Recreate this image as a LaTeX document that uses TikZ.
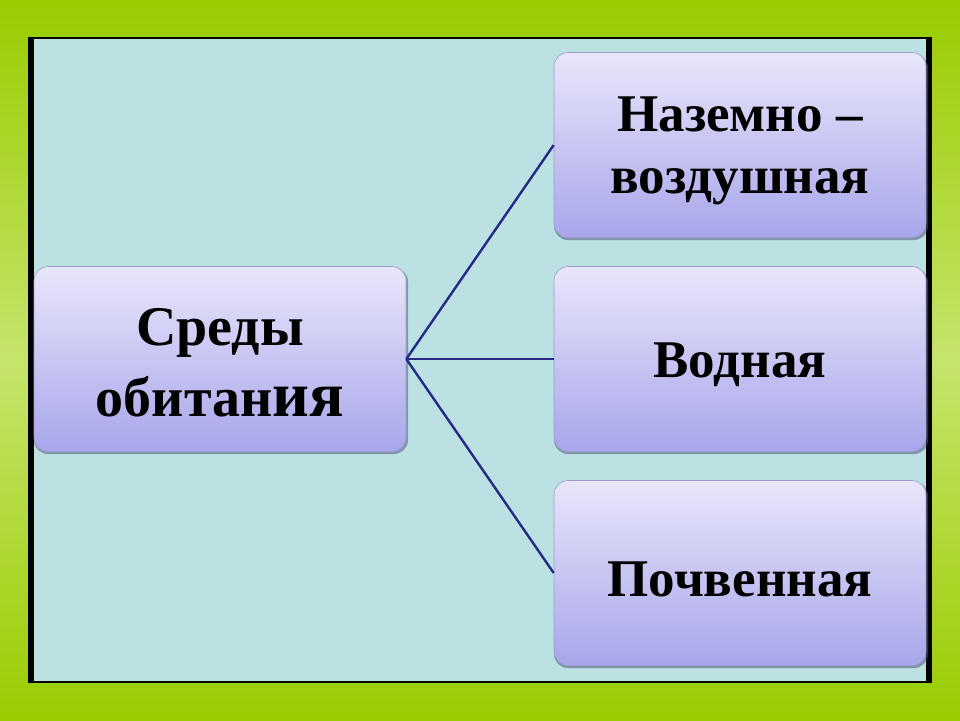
\documentclass[tikz,border=0pt]{standalone}
\usepackage{fontspec}
\setmainfont{Liberation Serif}
\definecolor{greenA}{HTML}{99CC00}
\definecolor{greenB}{HTML}{C6E46C}
\definecolor{panel}{HTML}{BCE1E3}
\definecolor{boxtop}{HTML}{E8E6FA}
\definecolor{boxbot}{HTML}{A8A6EA}
\definecolor{boxedge}{HTML}{9C9CD2}
\definecolor{link}{HTML}{262A86}
\definecolor{shad}{HTML}{4F5A78}
\tikzset{
  box/.style={rounded corners=14pt, top color=boxtop, bottom color=boxbot,
    draw=boxedge, line width=0.6pt, minimum width=372pt, minimum height=185pt,
    inner sep=0pt},
  label53/.style={align=center, inner sep=0pt, font=\bfseries\fontsize{53}{62}\selectfont},
  label56/.style={align=center, inner sep=0pt, font=\bfseries\fontsize{56}{71}\selectfont},
  conn/.style={draw=link, line width=2.4pt},
}
\begin{document}
\begin{tikzpicture}[x=1pt,y=-1pt]
\useasboundingbox (0,0) rectangle (960,720);
% green frame with gradient
\shade[top color=greenA, bottom color=greenB] (0,0) rectangle (960,360);
\shade[top color=greenB, bottom color=greenA] (0,360) rectangle (960,720);
% panel
\fill[black] (28,37) rectangle (932,683);
\fill[panel] (34,39) rectangle (926,681);
% shadows
\foreach \x/\y in {220/359, 740/145, 740/359, 740/573}{
  \fill[shad, opacity=0.55, rounded corners=14pt] (\x-186,\y-91) rectangle (\x+188,\y+95);
}
% boxes
\node[box] (root) at (220,359) {};
\node[box] (air) at (740,145) {};
\node[box] (water) at (740,359) {};
\node[box] (soil) at (740,573) {};
% texts
\node[label56] (rootT) at ([yshift=-4pt]root.center) {Среды\\обитан{\fontsize{64}{71}\selectfont ия}};
\node[label53] (airT) at ([yshift=-6pt]air.center) {Наземно –\\воздушная};
\node[label53] (waterT) at ([yshift=-6pt]water.center) {Водная};
\node[label53] (soilT) at ([yshift=-6pt]soil.center) {Почвенная};
% connectors
\draw[conn] (root.east) -- (air.west);
\draw[conn] (root.east) -- (water.west);
\draw[conn] (root.east) -- (soil.west);
\end{tikzpicture}
\end{document}
